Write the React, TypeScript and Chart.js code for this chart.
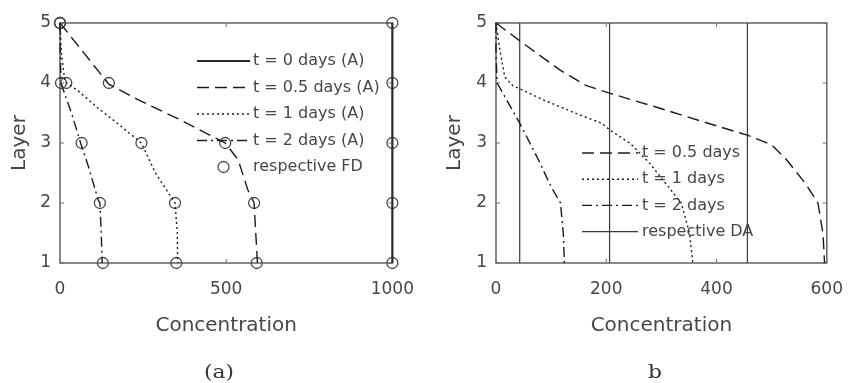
import React, { useEffect, useRef } from "react";
import { Chart, registerables } from "chart.js";

Chart.register(...registerables);

// ---------------- Panel (a) data ----------------
const aXTickStep = 500;
const aXMax = 1000;

const aT0Conc = [1000, 1000];
const aT0Layer = [1, 5];

const aHalfConc = [0, 147, 239, 364, 440, 497, 536, 565, 584, 589, 594];
const aHalfLayer = [5, 3.98, 3.71, 3.38, 3.16, 3.0, 2.72, 2.22, 2.0, 1.5, 1.0];

const aOneConc = [0, 4, 15, 52, 115, 163, 245, 287, 326, 346, 353, 354];
const aOneLayer = [5, 4.5, 4.02, 3.88, 3.58, 3.37, 3.0, 2.5, 2.17, 2.0, 1.5, 1.0];

const aTwoConc = [0, 1, 3, 38, 62, 86, 115, 120, 124, 127];
const aTwoLayer = [5, 4.5, 4.0, 3.44, 3.0, 2.6, 2.05, 2.0, 1.5, 1.0];

const fdLayers = [1, 2, 3, 4, 5];
const fdT0 = [1000, 1000, 1000, 1000, 1000];
const fdHalf = [592, 584, 497, 147, 0];
const fdOne = [350, 346, 245, 19, 0];
const fdTwo = [129, 120, 65, 3, 0];

// ---------------- Panel (b) data ----------------
const bXTickStep = 200;
const bXMax = 600;

const bHalfConc = [0, 42, 117, 163, 206, 290, 377, 456, 500, 527, 561, 584, 593, 596];
const bHalfLayer = [5, 4.71, 4.21, 3.96, 3.83, 3.6, 3.35, 3.13, 2.97, 2.72, 2.33, 2.0, 1.5, 1.0];

const bOneConc = [0, 7, 16, 30, 88, 146, 192, 206, 244, 279, 336, 351, 357];
const bOneLayer = [5, 4.55, 4.1, 3.96, 3.71, 3.49, 3.33, 3.22, 2.99, 2.66, 2.0, 1.5, 1.0];

const bTwoConc = [0, 0, 2, 43, 77, 100, 117, 122, 124];
const bTwoLayer = [5, 4.5, 4.0, 3.33, 2.72, 2.27, 2.0, 1.5, 1.0];

const bDAConc = [456, 206, 43]; // respective DA for 0.5, 1, 2 days
const daLayers = [1, 5];

// ---------------- styles ----------------
const TEXT = "#474747";
const AXIS = "#6c6c6c";
const LINE = "#1c1c1c";
const MARK = "#4a4a4a";
const SANS = '"DejaVu Sans", sans-serif';

const DASH = [12, 6];
const DOT = [2, 3];
const DASHDOT = [10, 4, 2, 4];

const pts = (xs: number[], ys: number[]) => xs.map((x, i) => ({ x, y: ys[i] }));

const curve = (label: string, xs: number[], ys: number[], dash: number[], width = 1.4, color = LINE) => ({
  label,
  data: pts(xs, ys),
  borderColor: color,
  backgroundColor: color,
  borderWidth: width,
  borderDash: dash,
  pointRadius: 0,
  fill: false,
  tension: 0,
  clip: false,
});

const markers = (label: string, xs: number[], ys: number[]) => ({
  label,
  data: pts(xs, ys),
  showLine: false,
  borderColor: MARK,
  backgroundColor: "rgba(0,0,0,0)",
  pointRadius: 5.5,
  pointStyle: "circle",
  pointBorderColor: MARK,
  pointBackgroundColor: "rgba(0,0,0,0)",
  pointBorderWidth: 1.3,
  clip: false,
});

const boxPlugin = {
  id: "matlabBox",
  beforeDatasetsDraw(chart: any) {
    const { ctx, chartArea: a, scales } = chart;
    ctx.save();
    ctx.strokeStyle = AXIS;
    ctx.lineWidth = 1.6;
    ctx.strokeRect(a.left, a.top, a.right - a.left, a.bottom - a.top);
    ctx.lineWidth = 1;
    const seg = (x1: number, y1: number, x2: number, y2: number) => {
      ctx.beginPath();
      ctx.moveTo(x1, y1);
      ctx.lineTo(x2, y2);
      ctx.stroke();
    };
    scales.x.ticks.forEach((t: any) => {
      const p = scales.x.getPixelForValue(t.value);
      seg(p, a.bottom, p, a.bottom - 4);
      seg(p, a.top, p, a.top + 4);
    });
    scales.y.ticks.forEach((t: any) => {
      const p = scales.y.getPixelForValue(t.value);
      seg(a.left, p, a.left + 4, p);
      seg(a.right, p, a.right - 4, p);
    });
    ctx.restore();
  },
};

function makeLegend(cfg: { x0: number; x1: number; textX: number; y0: number; dy: number; size: number; entries: number[] }) {
  return {
    id: "inlineLegend",
    afterDatasetsDraw(chart: any) {
      const ctx = chart.ctx;
      ctx.save();
      cfg.entries.forEach((di, i) => {
        const ds = chart.data.datasets[di];
        const y = cfg.y0 + i * cfg.dy;
        if (ds.showLine === false) {
          ctx.beginPath();
          ctx.setLineDash([]);
          ctx.lineWidth = ds.pointBorderWidth;
          ctx.strokeStyle = ds.pointBorderColor;
          ctx.arc((cfg.x0 + cfg.x1) / 2, y, ds.pointRadius, 0, Math.PI * 2);
          ctx.stroke();
        } else {
          ctx.beginPath();
          ctx.setLineDash(ds.borderDash || []);
          ctx.lineWidth = ds.borderWidth;
          ctx.strokeStyle = ds.borderColor;
          ctx.moveTo(cfg.x0, y);
          ctx.lineTo(cfg.x1, y);
          ctx.stroke();
        }
        ctx.setLineDash([]);
        ctx.font = `${cfg.size}px ${SANS}`;
        ctx.fillStyle = TEXT;
        ctx.textBaseline = "middle";
        ctx.textAlign = "left";
        ctx.fillText(ds.label, cfg.textX, y);
      });
      ctx.restore();
    },
  };
}

function buildConfig(o: {
  datasets: any[];
  xMax: number;
  xStep: number;
  yAxisWidth: number;
  yTitlePad: number;
  padRight: number;
  legend: any;
}) {
  const tickFont = { family: SANS, size: 17 };
  const titleFont = { family: SANS, size: 20 };
  const plain = (v: any) => String(v);
  return {
    type: "line",
    data: { datasets: o.datasets },
    options: {
      responsive: false,
      animation: false,
      devicePixelRatio: 1,
      events: [],
      layout: { padding: { left: 0, right: o.padRight, top: 23, bottom: 0 } },
      plugins: { legend: { display: false }, tooltip: { enabled: false }, title: { display: false } },
      scales: {
        x: {
          type: "linear",
          min: 0,
          max: o.xMax,
          ticks: { stepSize: o.xStep, padding: 16, font: tickFont, color: TEXT, maxRotation: 0, callback: plain },
          grid: { display: false, drawTicks: false },
          border: { display: false },
          title: { display: true, text: "Concentration", font: titleFont, color: TEXT, padding: { top: 0, bottom: 45 } },
          afterFit: (s: any) => {
            s.height = 120;
          },
        },
        y: {
          type: "linear",
          min: 1,
          max: 5,
          ticks: { stepSize: 1, padding: 9, font: tickFont, color: TEXT, callback: plain },
          grid: { display: false, drawTicks: false },
          border: { display: false },
          title: { display: true, text: "Layer", font: titleFont, color: TEXT, padding: { top: o.yTitlePad, bottom: 0 } },
          afterFit: (s: any) => {
            s.width = o.yAxisWidth;
          },
        },
      },
    },
    plugins: [boxPlugin, makeLegend(o.legend)],
  };
}

function configA() {
  const datasets = [
    curve("t = 0 days (A)", aT0Conc, aT0Layer, [], 2, "#2a2a2a"),
    curve("t = 0.5 days (A)", aHalfConc, aHalfLayer, DASH),
    curve("t = 1 days (A)", aOneConc, aOneLayer, DOT),
    curve("t = 2 days (A)", aTwoConc, aTwoLayer, DASHDOT),
    markers("respective FD", fdT0, fdLayers),
    markers("respective FD", fdHalf, fdLayers),
    markers("respective FD", fdOne, fdLayers),
    markers("respective FD", fdTwo, fdLayers),
  ];
  return buildConfig({
    datasets,
    xMax: aXMax,
    xStep: aXTickStep,
    yAxisWidth: 60,
    yTitlePad: 8,
    padRight: 22,
    legend: { x0: 197, x1: 250, textX: 253, y0: 61, dy: 26.5, size: 16, entries: [0, 1, 2, 3, 4] },
  });
}

function configB() {
  const datasets = [
    curve("t = 0.5 days", bHalfConc, bHalfLayer, DASH),
    curve("t = 1 days", bOneConc, bOneLayer, DOT),
    curve("t = 2 days", bTwoConc, bTwoLayer, DASHDOT),
    ...bDAConc.map((c) => curve("respective DA", [c, c], daLayers, [], 1.2, "#3a3a3a")),
  ];
  return buildConfig({
    datasets,
    xMax: bXMax,
    xStep: bXTickStep,
    yAxisWidth: 66,
    yTitlePad: 13,
    padRight: 17,
    legend: { x0: 152, x1: 208, textX: 212, y0: 153, dy: 26.2, size: 16, entries: [0, 1, 2, 3] },
  });
}

function Panel({ left, width, make }: { left: number; width: number; make: () => any }) {
  const ref = useRef<HTMLCanvasElement>(null);
  useEffect(() => {
    const chart = new Chart(ref.current as HTMLCanvasElement, make());
    return () => chart.destroy();
  }, []);
  return (
    <canvas
      ref={ref}
      width={width}
      height={383}
      style={{ position: "absolute", left, top: 0, width, height: 383, display: "block" }}
    />
  );
}

const captionStyle = (cx: number): React.CSSProperties => ({
  position: "absolute",
  left: cx - 40,
  width: 80,
  top: 359,
  textAlign: "center",
  fontFamily: '"DejaVu Serif", serif',
  fontSize: 19,
  lineHeight: "24px",
  color: "#333",
  transform: "scaleX(1.15)",
});

export default function App() {
  return (
    <div style={{ position: "fixed", left: 0, top: 0, width: 859, height: 383, background: "#fff", overflow: "hidden" }}>
      <Panel left={0} width={430} make={configA} />
      <Panel left={430} width={429} make={configB} />
      <div style={captionStyle(219)}>(a)</div>
      <div style={captionStyle(655)}>b</div>
    </div>
  );
}
